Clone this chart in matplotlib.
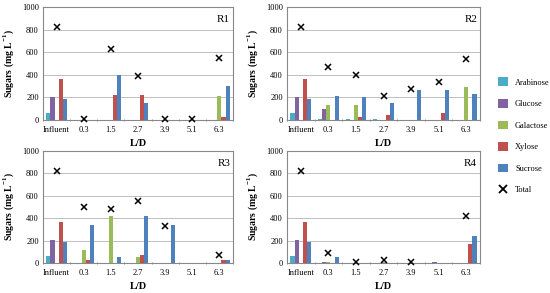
import numpy as np
import matplotlib
matplotlib.use("Agg")
import matplotlib.pyplot as plt
from matplotlib.patches import Patch
from matplotlib.lines import Line2D

plt.rcParams['font.family'] = ['Liberation Serif', 'DejaVu Serif']
plt.rcParams['mathtext.fontset'] = 'custom'
plt.rcParams['mathtext.rm'] = 'Liberation Serif'
plt.rcParams['mathtext.bf'] = 'Liberation Serif:bold'

categories = ["Influent", "0.3", "1.5", "2.7", "3.9", "5.1", "6.3"]
series_names = ["Arabinose", "Glucose", "Galactose", "Xylose", "Sucrose"]
colors = ["#4BACC6", "#8064A2", "#9BBB59", "#C0504D", "#4F81BD"]
nan = np.nan

# R1
r1_arabinose = [60, 0, 0, 0, 0, 0, 0]
r1_glucose   = [205, 0, 0, 0, 0, 0, 0]
r1_galactose = [0, 0, 0, 0, 0, 0, 210]
r1_xylose    = [365, 0, 225, 225, 0, 0, 25]
r1_sucrose   = [185, 0, 395, 150, 0, 0, 300]
r1_total     = [825, 8, 625, 390, 5, 5, 545]
# R2
r2_arabinose = [60, 5, 5, 5, 0, 0, 3]
r2_glucose   = [205, 100, 0, 0, 0, 0, 4]
r2_galactose = [0, 135, 130, 0, 0, 0, 290]
r2_xylose    = [365, 0, 25, 40, 0, 60, 0]
r2_sucrose   = [185, 210, 205, 150, 265, 265, 232]
r2_total     = [825, 465, 395, 215, 270, 340, 540]
# R3
r3_arabinose = [60, 0, 0, 0, 0, 0, 0]
r3_glucose   = [205, 0, 0, 0, 0, 0, 0]
r3_galactose = [0, 115, 420, 50, 0, 0, 0]
r3_xylose    = [365, 25, 0, 75, 0, 0, 30]
r3_sucrose   = [185, 340, 55, 420, 335, 0, 25]
r3_total     = [825, 500, 485, 555, 330, nan, 70]
# R4
r4_arabinose = [60, 3, 0, 0, 0, 0, 0]
r4_glucose   = [205, 10, 0, 0, 0, 8, 0]
r4_galactose = [0, 5, 0, 10, 0, 0, 0]
r4_xylose    = [365, 0, 0, 0, 0, 0, 170]
r4_sucrose   = [185, 55, 0, 0, 0, 0, 245]
r4_total     = [825, 85, 8, 28, 5, nan, 420]

panels = [
    ("R1", [r1_arabinose, r1_glucose, r1_galactose, r1_xylose, r1_sucrose], r1_total),
    ("R2", [r2_arabinose, r2_glucose, r2_galactose, r2_xylose, r2_sucrose], r2_total),
    ("R3", [r3_arabinose, r3_glucose, r3_galactose, r3_xylose, r3_sucrose], r3_total),
    ("R4", [r4_arabinose, r4_glucose, r4_galactose, r4_xylose, r4_sucrose], r4_total),
]

fig = plt.figure(figsize=(5.5, 2.93), dpi=100)
W, H = 550, 293
boxes = [(43, 7, 233, 120), (287, 7, 480, 120), (43, 151, 233, 263), (287, 151, 480, 263)]

x = np.arange(len(categories))
bw = 0.15
for (label, series, total), (l, t, r, b) in zip(panels, boxes):
    ax = fig.add_axes([l / W, 1 - b / H, (r - l) / W, (b - t) / H])
    for i, (vals, c) in enumerate(zip(series, colors)):
        ax.bar(x + (i - 2) * bw, vals, width=bw, color=c, linewidth=0, zorder=3)
    ax.plot(x, total, linestyle='none', marker='x', color='black', markersize=4.5,
            markeredgewidth=1.1, zorder=4, clip_on=False)
    ax.set_xlim(-0.5, len(categories) - 0.5)
    ax.set_ylim(0, 1000)
    ax.set_yticks(np.arange(0, 1001, 200))
    ax.yaxis.grid(True, color='#BFBFBF', linewidth=0.7, zorder=0)
    ax.set_axisbelow(True)
    ax.set_xticks(x)
    ax.set_xticklabels(categories)
    ax.set_xticks(np.arange(-0.5, len(categories), 1), minor=True)
    ax.tick_params(axis='x', which='major', length=0, labelsize=6, pad=4)
    ax.tick_params(axis='x', which='minor', length=2, direction='inout', color='#888888')
    ax.tick_params(axis='y', length=0, labelsize=6, pad=3)
    for s in ax.spines.values():
        s.set_color('#888888')
        s.set_linewidth(0.8)
    ax.set_xlabel("L/D", fontsize=7.5, fontweight='bold', labelpad=4)
    ax.set_ylabel(r"Sugars (mg L$^{\mathbf{-1}}$)", fontsize=7, fontweight='bold', labelpad=4)
    ax.text(0.985, 0.93, label, transform=ax.transAxes, ha='right', va='top', fontsize=8)

handles = [Patch(facecolor=c, edgecolor='none') for c in colors]
handles.append(Line2D([], [], linestyle='none', marker='x', color='black', markersize=6, markeredgewidth=1.3))
fig.legend(handles, series_names + ["Total"], loc='upper left', bbox_to_anchor=(490 / W, 1 - 70 / H),
           frameon=False, fontsize=6, labelspacing=1.5, handlelength=1.2, handleheight=1.2,
           handletextpad=0.9)

fig.savefig("out.png", dpi=100)
